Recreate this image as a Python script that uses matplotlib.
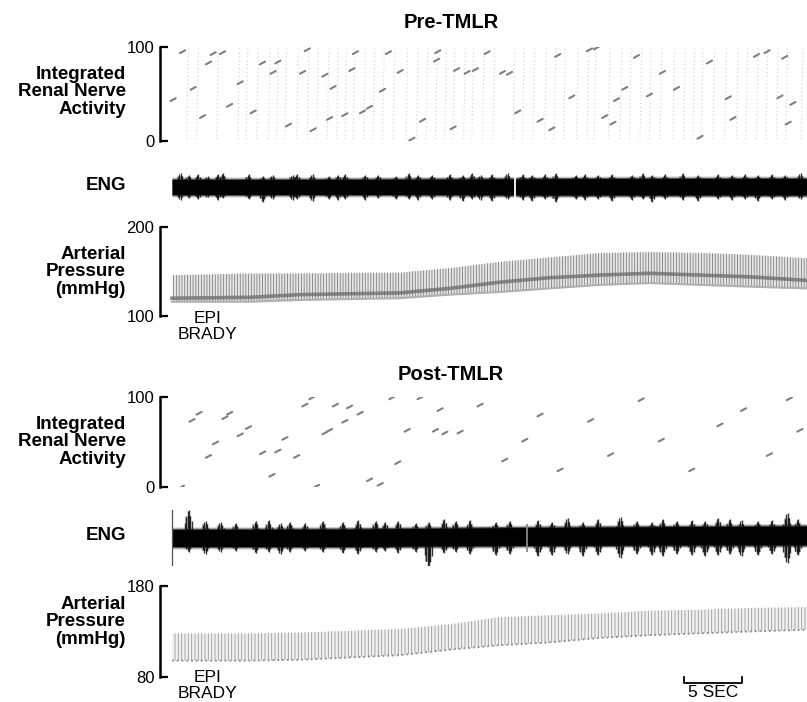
import numpy as np
import matplotlib
matplotlib.use("Agg")
import matplotlib.pyplot as plt
import matplotlib.transforms as mtransforms

plt.rcParams['font.family'] = ['Liberation Sans', 'DejaVu Sans']
plt.rcParams['hatch.linewidth'] = 0.6

# ---- data (time in seconds) ----
T_END = 54.0

# integrated renal nerve activity: faint reset lines and darker integrator dashes
pre_resets = [1.25, 2.1, 3.8, 5.6, 6.3, 7.2, 8.2, 8.9, 9.6, 10.6, 11.5, 12.3, 13.2,
              14.0, 14.7, 15.4, 16.3, 17.1, 17.9, 18.8, 19.9, 20.8, 21.6, 22.4, 23.2,
              23.9, 24.8, 25.5, 26.4, 27.3, 29.0, 29.8, 30.7, 31.7, 32.5, 33.3, 34.4,
              35.3, 35.9, 37.1, 38.1, 38.9, 39.8, 40.6, 41.5, 42.6, 43.5, 44.3, 45.0,
              46.0, 47.0, 48.0, 48.8, 49.7, 50.5, 51.4, 52.2, 53.5]
pre_dash_t = [0.9, 0.1, 1.8, 2.6, 3.1, 3.5, 4.3, 4.9, 5.8, 6.9, 7.7, 8.6, 9.0, 9.9,
              11.1, 11.5, 12.0, 13.0, 13.7, 13.4, 14.7, 15.6, 15.3, 16.2, 16.8, 17.9,
              18.4, 19.4, 20.4, 21.3, 22.6, 22.5, 23.9, 24.2, 25.1, 25.8, 26.8, 28.1,
              28.7, 29.4, 31.3, 32.3, 32.8, 34.0, 35.5, 36.1, 36.8, 37.5, 37.8, 38.5,
              39.5, 40.6, 42.9, 41.7, 44.9, 45.7, 47.3, 47.7, 49.7, 50.6, 51.7, 52.1,
              52.8, 52.4]
pre_dash_v = [95, 44, 56, 26, 83, 93, 94, 38, 62, 31, 83, 73, 84, 17, 73, 97, 12, 70,
              57, 24, 28, 94, 76, 31, 36, 54, 94, 74, 2, 22, 95, 86, 14, 76, 73, 76, 94,
              73, 72, 31, 22, 13, 91, 47, 97, 99, 26, 19, 44, 56, 90, 49, 56, 73, 4, 84,
              46, 24, 91, 95, 47, 89, 40, 19]

post_dash_t = [0.8, 1.7, 2.3, 3.1, 3.7, 4.5, 4.9, 5.8, 6.5, 7.7, 8.5, 9.0, 9.6, 10.6,
               11.3, 11.9, 12.3, 13.0, 13.4, 13.9, 14.7, 15.1, 16.0, 16.8, 17.7, 18.7,
               19.2, 20.0, 21.1, 22.4, 23.2, 22.8, 24.5, 26.2, 28.3, 30.0, 31.3, 33.0,
               35.6, 37.3, 39.9, 41.6, 44.2, 46.6, 48.6, 50.8, 52.5, 53.4]
post_dash_v = [0, 74, 82, 34, 49, 77, 82, 58, 66, 38, 13, 40, 54, 34, 91, 99, 1, 60,
               63, 91, 73, 89, 82, 8, 3, 99, 27, 63, 99, 63, 60, 86, 61, 91, 30, 52, 80,
               19, 74, 36, 97, 52, 19, 69, 86, 36, 98, 63]

# ENG: core envelope and bursts (amplitude units, arbitrary)
pre_core_t = [0, 10, 20, 30, 40, 54]
pre_core_hi = [7.5, 7.5, 7.8, 8.2, 8.5, 8.5]
pre_core_lo = [-7.5, -7.5, -7.5, -8.0, -8.0, -8.0]
pre_burst_t = [0.7, 1.4, 2.2, 3.0, 3.9, 4.3, 6.5, 7.7, 8.5, 10.2, 10.6, 11.9, 13.3, 14.1,
               14.7, 16.4, 17.5, 19.0, 20.1, 20.9, 22.1, 23.6, 24.7, 25.5, 26.2, 27.2,
               28.5, 29.8, 30.6, 31.7, 32.6, 34.3, 35.1, 36.2, 37.4, 39.1, 40.0, 40.8,
               41.9, 43.4, 44.7, 46.4, 47.6, 48.7, 49.8, 51.0, 52.1, 53.4]
pre_burst_up = [14, 12, 13, 11, 13, 14, 13, 11, 12, 12, 13, 13, 11, 12, 13, 12, 12, 11,
                14, 12, 12, 13, 12, 14, 12, 13, 14, 13, 12, 13, 14, 12, 13, 12, 13, 12,
                14, 12, 13, 14, 12, 13, 12, 13, 12, 13, 12, 14]
pre_burst_dn = [13, 11, 12, 10, 13, 11, 12, 15, 12, 13, 12, 14, 12, 13, 12, 13, 11, 12,
                12, 13, 12, 13, 14, 12, 13, 14, 12, 13, 14, 12, 15, 12, 13, 12, 14, 13,
                12, 15, 12, 13, 14, 12, 13, 12, 14, 12, 13, 12]

post_core_t = [0, 15, 30, 45, 54]
post_core_hi = [8.5, 9.0, 10.5, 11.5, 12.0]
post_core_lo = [-8.5, -8.5, -7.5, -7.0, -7.0]
post_burst_t = [1.4, 2.8, 4.1, 5.4, 7.1, 8.2, 9.2, 10.0, 11.3, 12.8, 14.5, 15.8,
                17.3, 18.1, 19.2, 20.7, 21.8, 23.1, 24.1, 25.3, 27.5, 28.7, 31.1, 32.3,
                33.6, 34.9, 36.2, 38.1, 39.5, 40.8, 41.7, 42.9, 44.2, 45.3, 46.4, 47.4,
                48.4, 49.8, 51.0, 52.3, 53.2]
post_burst_up = [28, 17, 16, 15, 17, 18, 15, 16, 15, 17, 16, 18, 17, 16, 17, 15, 16,
                 19, 17, 18, 16, 17, 18, 16, 20, 16, 19, 21, 17, 16, 19, 17, 18, 17, 20,
                 19, 18, 17, 18, 25, 19]
post_burst_dn = [14, 16, 14, 13, 15, 14, 16, 14, 13, 14, 15, 16, 14, 13, 15, 14, 30,
                 15, 14, 16, 17, 16, 18, 17, 16, 18, 17, 20, 16, 17, 18, 16, 17, 18, 17,
                 16, 18, 17, 16, 25, 17]
post_start_mark = (0.0, 30, 36)   # thin start-of-record stroke: time, up, down

# arterial pressure envelopes (mmHg)
ap_t = [0, 6.6, 10.9, 19.4, 23.6, 27.9, 32.1, 36.4, 40.6, 44.9, 49.1, 54.0]
pre_sys = [146, 148, 148, 149, 154, 161, 166, 171, 172, 171, 169, 165]
pre_dia = [120, 121, 124, 126, 131, 138, 143, 146, 148, 146, 144, 140]
pre_low = [116, 116, 118, 120, 124, 127, 131, 135, 137, 135, 133, 131]
post_sys = [128, 128, 129, 133, 138, 146, 148, 150, 153, 154, 156, 157]
post_low = [98, 98, 99, 104, 110, 115, 118, 123, 126, 128, 130, 132]

SCALE_SEC = 5
scale_start = 43.5

# ---- layout (pixels of an 807x702 canvas) ----
W, H = 807, 702
fig = plt.figure(figsize=(W / 100, H / 100), dpi=100)
px_per_s = 11.76
x0 = -12 / px_per_s
LAB = 13.5


def add_ax(top, bottom):
    ax = fig.add_axes([160 / W, 1 - bottom / H, 1 - 160 / W, (bottom - top) / H])
    ax.set_xlim(x0, T_END)
    for s in ['top', 'right', 'bottom']:
        ax.spines[s].set_visible(False)
    ax.set_xticks([])
    ax.patch.set_alpha(0)
    return ax


def bracket(ax, lo, hi):
    ax.set_ylim(lo, hi)
    ax.spines['left'].set_linewidth(1.8)
    ax.set_yticks([lo, hi])
    ax.set_yticklabels([str(lo), str(hi)])
    ax.tick_params(axis='y', direction='in', length=6, width=1.6, pad=4, labelsize=12)


def label(text, y):
    fig.text(126 / W, 1 - y / H, text, ha='right', va='center', fontsize=LAB,
             fontweight='bold', linespacing=1.05)


def integ(ax, resets, dt, dv):
    for t in resets:
        ax.plot([t, t + 0.15], [2, 100], ls=(0, (1, 2.5)), color='#cfcfcf', lw=0.8)
    for t, v in zip(dt, dv):
        ax.plot([t - 0.22, t + 0.22], [v - 1.5, v + 1.5], color='#7f7f7f', lw=1.5,
                solid_capstyle='round')


def burst(ax, t, u, d):
    # one burst drawn as a small fuzzy cluster of tapering strokes
    ax.vlines(t, -d * 0.8, u * 0.8, color='#444444', lw=4.5, alpha=0.35, zorder=1)
    for off, f in [(-0.3, 0.55), (-0.18, 0.75), (-0.07, 0.95), (0.05, 1.0),
                   (0.16, 0.8), (0.28, 0.6)]:
        ax.vlines(t + off, -d * f, u * f, color='black', lw=1.0, alpha=0.8, zorder=2)


def eng(ax, ct, chi, clo, bt, bu, bd, lim):
    ax.set_ylim(-lim, lim)
    ax.spines['left'].set_visible(False)
    ax.set_yticks([])
    hi = np.array(chi)
    lo = np.array(clo)
    ax.fill_between(ct, lo - 2.5, hi + 2.5, color='#555555', alpha=0.3, lw=0, zorder=1)
    for t, u, d in zip(bt, bu, bd):
        burst(ax, t, u, d)
    ax.fill_between(ct, lo - 1.2, hi + 1.2, color='#222222', alpha=0.7, lw=0, zorder=3)
    ax.fill_between(ct, lo, hi, color='black', lw=0, zorder=4)


def pressure(ax, sys_v, low_v, dia_v=None):
    if dia_v is not None:
        ax.fill_between(ap_t, low_v, sys_v, color='#cfcfcf', alpha=0.5, lw=0)
        ax.fill_between(ap_t, low_v, sys_v, facecolor='none', edgecolor='#808080',
                        hatch='||||||', lw=0)
        ax.plot(ap_t, dia_v, color='#707070', lw=2.6, alpha=0.8)
        ax.plot(ap_t, low_v, color='#b0b0b0', lw=1.5)
    else:
        ax.fill_between(ap_t, low_v, sys_v, color='#dddddd', alpha=0.4, lw=0)
        ax.fill_between(ap_t, low_v, sys_v, facecolor='none', edgecolor='#9a9a9a',
                        hatch='|||||', lw=0)
        ax.plot(ap_t, low_v, ls=':', color='#8a8a8a', lw=1.3)


# ---- Pre-TMLR ----
fig.text(451 / W, 1 - 22 / H, 'Pre-TMLR', ha='center', va='center', fontsize=14.5,
         fontweight='bold')
ax1 = add_ax(47, 141)
bracket(ax1, 0, 100)
integ(ax1, pre_resets, pre_dash_t, pre_dash_v)
label('Integrated\nRenal Nerve\nActivity', 92)

ax2 = add_ax(160, 214)
eng(ax2, pre_core_t, pre_core_hi, pre_core_lo, pre_burst_t, pre_burst_up, pre_burst_dn, 27)
ax2.vlines(29.2, -20, 20, color='white', lw=1.3, zorder=5)
label('ENG', 186)

ax3 = add_ax(227, 316)
bracket(ax3, 100, 200)
pressure(ax3, pre_sys, pre_low, pre_dia)
label('Arterial\nPressure\n(mmHg)', 272)
tr3 = mtransforms.blended_transform_factory(ax3.transData, ax3.transAxes)
ax3.text(3.0, 0.06, 'EPI\nBRADY', transform=tr3, ha='center', va='top', fontsize=12.5,
         linespacing=1.15)

# ---- Post-TMLR ----
fig.text(451 / W, 1 - 375 / H, 'Post-TMLR', ha='center', va='center', fontsize=14.5,
         fontweight='bold')
ax4 = add_ax(397, 487)
bracket(ax4, 0, 100)
integ(ax4, [], post_dash_t, post_dash_v)
label('Integrated\nRenal Nerve\nActivity', 442)

ax5 = add_ax(510, 566)
eng(ax5, post_core_t, post_core_hi, post_core_lo, post_burst_t, post_burst_up,
    post_burst_dn, 28)
ax5.vlines(post_start_mark[0], -post_start_mark[2], post_start_mark[1], color='#555555',
           lw=0.9, zorder=5)
ax5.vlines(30.2, -14, 14, color='#888888', lw=1.3, zorder=5)
label('ENG', 536)

ax6 = add_ax(586, 677)
bracket(ax6, 80, 180)
pressure(ax6, post_sys, post_low)
label('Arterial\nPressure\n(mmHg)', 622)
tr6 = mtransforms.blended_transform_factory(ax6.transData, ax6.transAxes)
ax6.text(3.0, 0.08, 'EPI\nBRADY', transform=tr6, ha='center', va='top', fontsize=12.5,
         linespacing=1.1)

# 5 s scale bar
sb = [scale_start, scale_start, scale_start + SCALE_SEC, scale_start + SCALE_SEC]
ax6.plot(sb, [0.0, -0.066, -0.066, 0.0], transform=tr6, color='black', lw=1.3,
         clip_on=False)
ax6.text(scale_start + SCALE_SEC / 2, -0.09, '5 SEC', transform=tr6, ha='center',
         va='top', fontsize=12.5)

fig.savefig('out.png', dpi=100)
